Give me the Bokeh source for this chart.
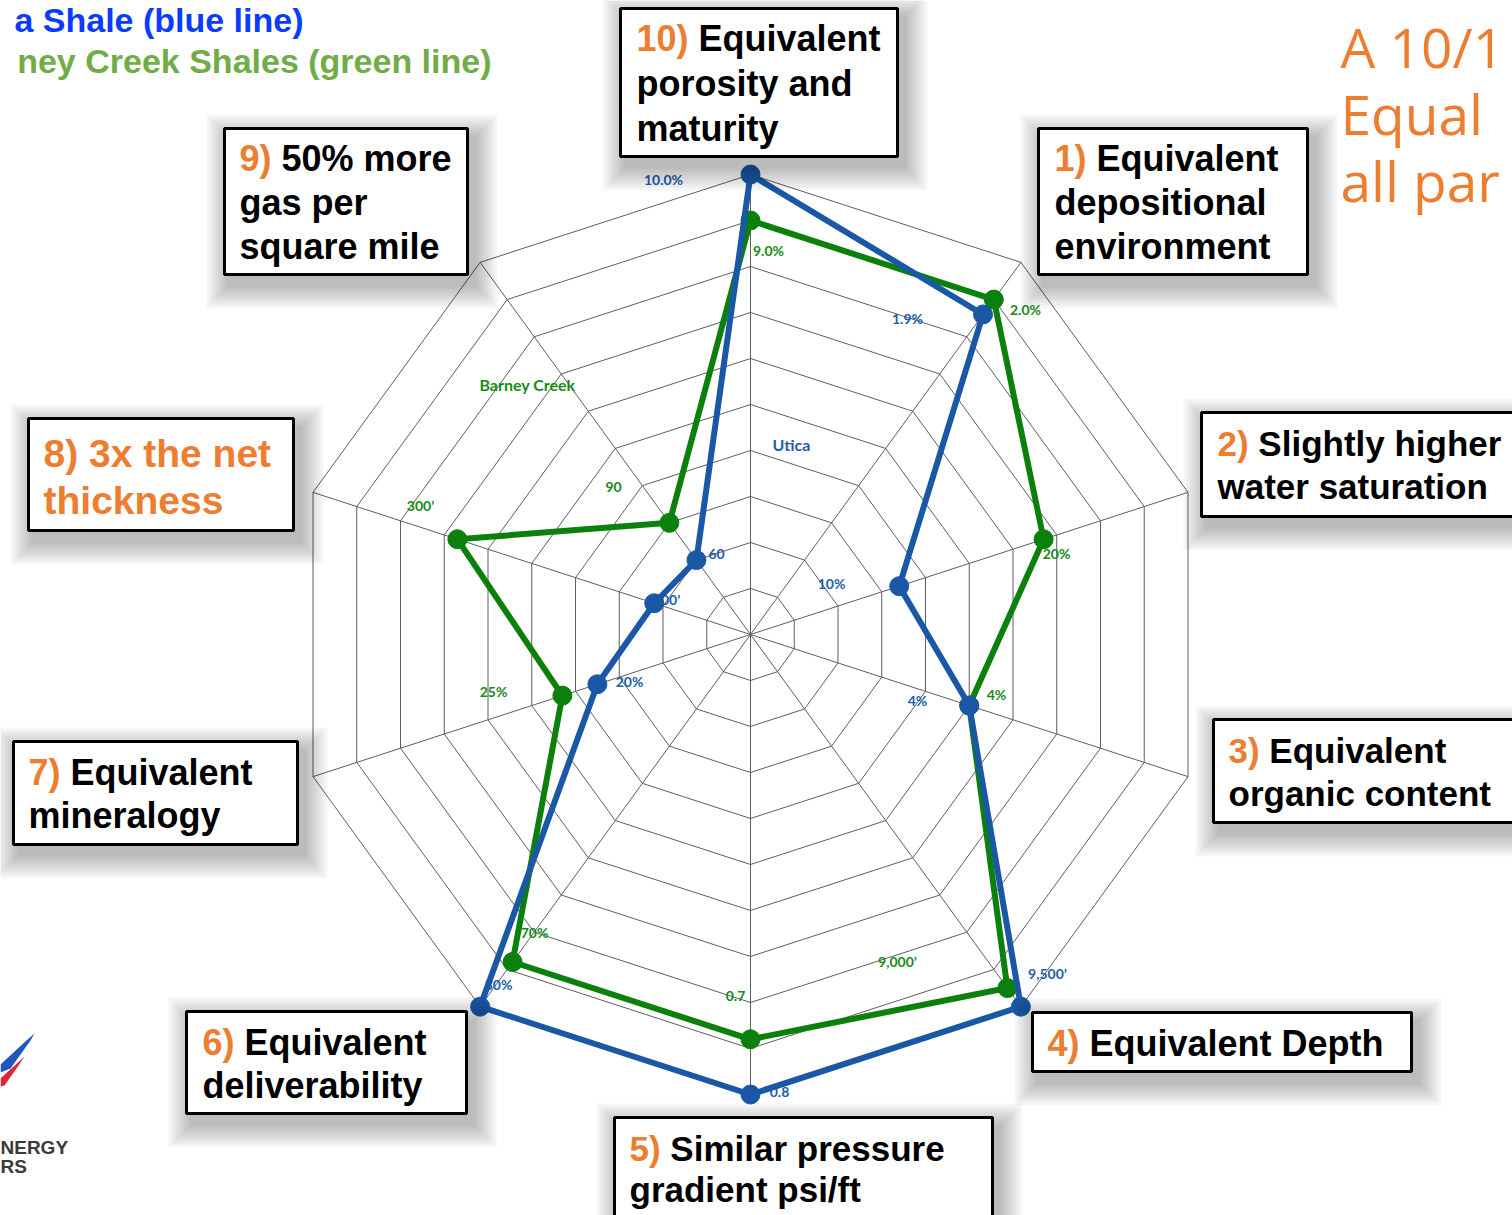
import math
from bokeh.plotting import figure
from bokeh.models import Range1d
from bokeh.core.properties import value
from bokeh.embed import file_html
from bokeh.resources import INLINE

# ---------------- data ----------------
axis_ids = ["1", "2", "3", "4", "5", "6", "7", "8", "9", "10"]
utica_values = [8.6, 3.4, 5.0, 10.0, 10.0, 10.0, 3.5, 2.2, 2.0, 10.0]
barney_values = [9.0, 6.7, 5.0, 9.5, 8.8, 8.8, 4.3, 6.7, 3.0, 9.0]
ring_levels = [1, 2, 3, 4, 5, 6, 7, 8, 9, 10]

callout_titles = [
    ("10)", ["Equivalent", "porosity and", "maturity"]),
    ("1)", ["Equivalent", "depositional", "environment"]),
    ("2)", ["Slightly higher", "water saturation"]),
    ("3)", ["Equivalent", "organic content"]),
    ("4)", ["Equivalent Depth"]),
    ("5)", ["Similar pressure", "gradient psi/ft"]),
    ("6)", ["Equivalent", "deliverability"]),
    ("7)", ["Equivalent", "mineralogy"]),
    ("8)", ["3x the net", "thickness"]),
    ("9)", ["50% more", "gas per", "square mile"]),
]

value_labels = ["10.0%", "9.0%", "1.9%", "2.0%", "Utica", "10%", "20%", "4%", "4%",
                "9,500\u2019", "9,000\u2019", "0.8", "0.7", "80%", "70%", "25%", "20%",
                "300\u2019", "100\u2019", "60", "90", "Barney Creek"]
value_label_series = ["u", "b", "u", "b", "u", "u", "b", "u", "b",
                      "u", "b", "u", "b", "u", "b", "b", "u",
                      "b", "u", "u", "b", "b"]

legend_texts = ["a Shale (blue line)", "ney Creek Shales (green line)"]
headline_texts = ["A 10/1", "Equal", "all par"]

# ---------------- layout / style ----------------
W, H = 1512, 1215
CX, CY, UNIT = 750, 634, 46
BLUE = "#1A58A6"
GREEN = "#0C800C"
LBL_BLUE = "#1E5CAA"
LBL_GREEN = "#178A17"
ORANGE = "#ED7D31"

p = figure(width=W, height=H, x_range=Range1d(0, W), y_range=Range1d(H, 0),
           output_backend="svg", toolbar_location=None, min_border=0)
p.axis.visible = False
p.grid.visible = False
p.outline_line_color = None
p.background_fill_color = "white"
p.border_fill_color = "white"


def ang(k):
    return math.radians(90 - 36 * (k + 1))


def pt(r, k):
    a = ang(k)
    return CX + r * UNIT * math.cos(a), CY - r * UNIT * math.sin(a)


# grid rings
rxs, rys = [], []
for lv in ring_levels:
    pts = [pt(lv, k) for k in range(len(axis_ids))] + [pt(lv, 0)]
    rxs.append([q[0] for q in pts])
    rys.append([q[1] for q in pts])
p.multi_line(rxs, rys, line_color="#5E5E5E", line_width=1)
# spokes
ends = [pt(ring_levels[-1], k) for k in range(len(axis_ids))]
p.segment(x0=[CX] * len(ends), y0=[CY] * len(ends), x1=[e[0] for e in ends],
          y1=[e[1] for e in ends], line_color="#5E5E5E", line_width=1)

# value labels (drawn under the series)
label_pos = [(663, 179), (768, 250), (907, 318), (1025, 309), (791, 444), (831, 583),
             (1056, 553), (917, 700), (996, 694), (1047, 973), (897, 961), (779, 1091),
             (735, 995), (498, 984), (534, 932), (493, 691), (629, 681), (420, 505),
             (666, 599), (716, 553), (613, 486), (527, 384)]
for txt, s, (lx, ly) in zip(value_labels, value_label_series, label_pos):
    big = txt in ("Utica", "Barney Creek")
    p.text(x=[lx], y=[ly], text=[txt], text_font=value("Lato"), text_font_style="bold",
           text_font_size="16px" if big else "14px", text_align="center",
           text_baseline="middle", text_color=LBL_BLUE if s == "u" else LBL_GREEN)

# series
for vals, col in ((barney_values, GREEN), (utica_values, BLUE)):
    pts = [pt(v, k) for k, v in enumerate(vals)]
    xs = [q[0] for q in pts]
    ys = [q[1] for q in pts]
    p.line(xs + [xs[0]], ys + [ys[0]], line_color=col, line_width=6, line_join="round")
    p.scatter(xs, ys, size=19, fill_color=col, line_color=col)

# callout boxes
box_geom = [  # left, top, right, bottom, text_x, first_line_y, line_gap, font px
    (620, 8, 897, 156, 636, 38, 45, 36),
    (1038, 128, 1307, 274, 1054, 158, 44, 36),
    (1201, 412, 1530, 516, 1217, 443, 43, 35),
    (1213, 719, 1530, 822, 1228, 750, 43, 35),
    (1032, 1012, 1411, 1071, 1047, 1043, 43, 36),
    (614, 1117, 992, 1240, 629, 1148, 41, 35),
    (186, 1011, 466, 1113, 202, 1042, 43, 36),
    (13, 741, 297, 844, 28, 772, 43, 36),
    (28, 418, 293, 530, 43, 453, 47, 39),
    (224, 128, 467, 274, 239, 158, 44, 36),
]
for (num, lines), (l, t, r, b, tx, ty, gap, fs) in zip(callout_titles, box_geom):
    for i in range(1, 9):
        e = i * 3.0
        p.quad(left=[l - e + 6], right=[r + e + 6], top=[t - e + 10], bottom=[b + e + 10],
               fill_color="black", fill_alpha=0.035, line_color=None)
    p.quad(left=[l], right=[r], top=[t], bottom=[b], fill_color="white",
           line_color="black", line_width=3)
    all_orange = num == "8)"
    num_w = fs * (0.556 * (len(num) - 1) + 0.333 + 0.278)
    for i, ln in enumerate(lines):
        y = ty + i * gap
        x = tx
        if i == 0:
            p.text(x=[tx], y=[y], text=[num], text_font=value("Liberation Sans"),
                   text_font_style="bold", text_font_size=f"{fs}px", text_align="left",
                   text_baseline="middle", text_color=ORANGE)
            x = tx + num_w
        p.text(x=[x], y=[y], text=[ln], text_font=value("Liberation Sans"),
               text_font_style="bold", text_font_size=f"{fs}px", text_align="left",
               text_baseline="middle", text_color=ORANGE if all_orange else "black")

# legend text at top-left (cropped in the source)
p.text(x=[303, 491], y=[19, 60], text=legend_texts, text_font=value("Liberation Sans"),
       text_font_style="bold", text_font_size="34px", text_align="right",
       text_baseline="middle", text_color=["#0A3CFF", "#70AD47"])

# headline at top-right (cropped in the source)
p.text(x=[1340] * 3, y=[46, 113, 180], text=headline_texts, text_font=value("Open Sans"),
       text_font_size="55px", text_align="left", text_baseline="middle",
       text_color=ORANGE)

# logo fragments bottom-left
p.patch([0, 26, 34, 30, 10, 0], [1064, 1040, 1033, 1040, 1068, 1072],
        fill_color="#2255C4", line_color=None)
p.patch([0, 24, 16, 4, 0], [1078, 1056, 1068, 1085, 1086], fill_color="#E0243A",
        line_color=None)
p.text(x=[0, 0], y=[1147, 1166], text=["NERGY", "RS"], text_font=value("Liberation Sans"),
       text_font_style="bold", text_font_size="19px", text_align="left",
       text_baseline="middle", text_color="#3A3A3A")

open("out.html", "w").write(file_html(p, INLINE))
